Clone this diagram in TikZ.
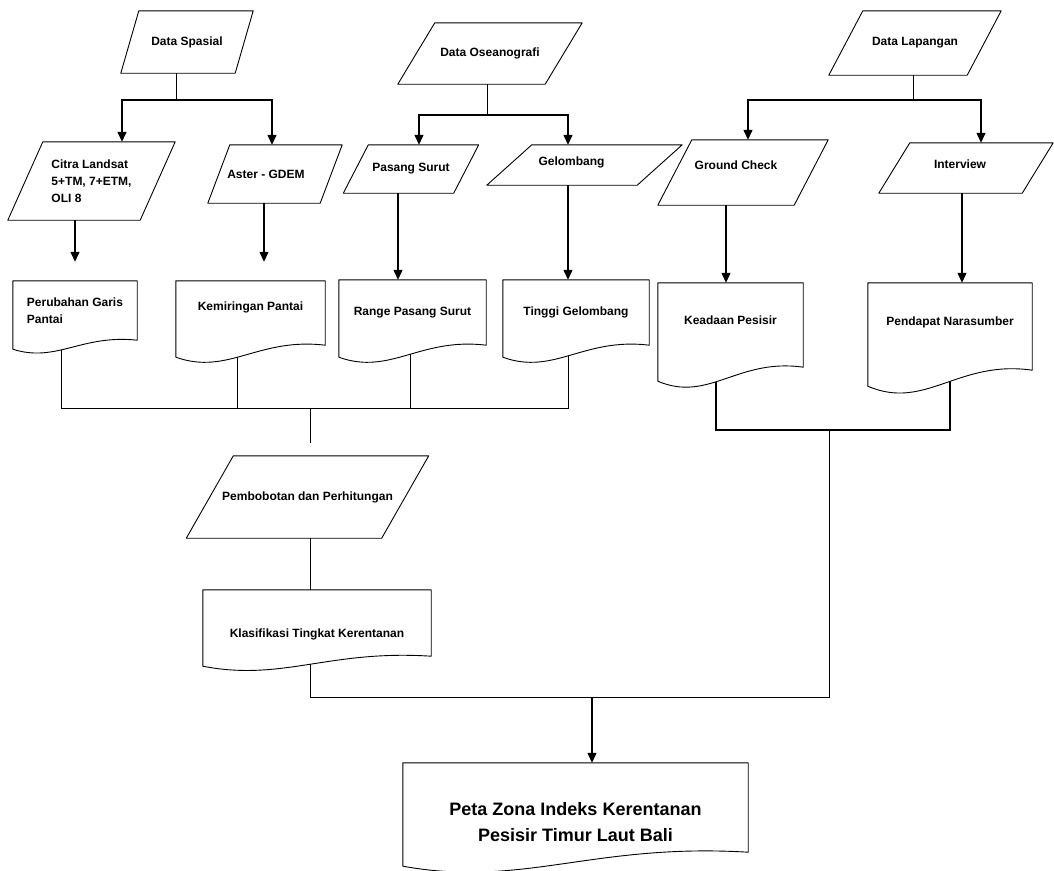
\documentclass[tikz,border=0pt]{standalone}
\usepackage{fontspec}
\setmainfont{Liberation Sans}
\usetikzlibrary{arrows.meta,calc,backgrounds}

\tikzset{
  box/.style={inner sep=0pt,align=center,font=\bfseries\fontsize{12}{17}\selectfont},
  outline/.style={line width=0.9pt,line join=round},
  conn/.style={line width=1pt},
  arr/.style={line width=1.3pt,-{Triangle[length=10pt,width=9pt]}},
}

\begin{document}
\begin{tikzpicture}[x=1pt,y=-1pt]
\useasboundingbox (0,0) rectangle (1054,870);

% input data (parallelograms)
\node[box,minimum width=114pt,minimum height=62pt] (spasial) at (187,42) {Data Spasial};
\node[box,minimum width=147pt,minimum height=61pt] (oseano) at (490,53.5) {Data Oseanografi};
\node[box,minimum width=138pt,minimum height=64pt] (lapangan) at (915,43) {Data Lapangan};
\node[box,align=left,minimum width=132pt,minimum height=78pt] (citra) at (91.5,181) {Citra Landsat\\5+TM, 7+ETM,\\OLI 8};
\node[box,minimum width=112pt,minimum height=58pt] (aster) at (275,174) {Aster - GDEM\hspace*{18pt}};
\node[box,minimum width=110pt,minimum height=48pt] (pasang) at (411,169) {Pasang Surut};
\node[box,minimum width=150pt,minimum height=40pt,text depth=8pt] (gelombang) at (584.5,165) {Gelombang\hspace*{26pt}};
\node[box,minimum width=136pt,minimum height=65pt,text depth=15pt] (ground) at (743,172.5) {Ground Check\hspace*{14pt}};
\node[box,minimum width=143pt,minimum height=50pt,text depth=8pt] (interview) at (966,168) {Interview\hspace*{12pt}};
\node[box,minimum width=195pt,minimum height=82pt] (bobot) at (307.5,497) {Pembobotan dan Perhitungan};

% documents
\node[box,align=left,minimum width=124pt,minimum height=59pt] (perubahan) at (75,310.5) {Perubahan Garis\\Pantai};
\node[box,minimum width=149pt,minimum height=64pt,text depth=13pt] (kemiringan) at (250.5,313) {Kemiringan Pantai};
\node[box,minimum width=147pt,minimum height=65pt] (range) at (412.5,312.5) {Range Pasang Surut};
\node[box,minimum width=146pt,minimum height=65pt] (tinggi) at (576,312.5) {Tinggi Gelombang};
\node[box,minimum width=145pt,minimum height=84pt,text depth=9pt] (keadaan) at (730.5,325) {Keadaan Pesisir};
\node[box,minimum width=164pt,minimum height=87pt,text depth=11pt] (pendapat) at (950,326.5) {Pendapat Narasumber};
\node[box,minimum width=228pt,minimum height=66pt,text height=32pt] (klasif) at (317,623) {Klasifikasi Tingkat Kerentanan};
\node[box,minimum width=345pt,minimum height=89pt,text height=68pt,
      font=\bfseries\fontsize{18}{26}\selectfont] (peta) at (575.5,807.5) {Peta Zona Indeks Kerentanan\\Pesisir Timur Laut Bali};

% junctions
\coordinate (jspasial) at (176,100);
\coordinate (joseano) at (487,115);
\coordinate (jlapangan) at (913,100);
\coordinate (jinput) at (310,408);
\coordinate (jfield) at (829,430);
\coordinate (jout) at (592,697);

\foreach \n/\s in {spasial/18,oseano/37,lapangan/34,citra/35,aster/22,pasang/25,gelombang/45,ground/34,interview/31,bobot/47}
  \draw[outline] ([xshift=\s/2]\n.north west) -- ([xshift=\s/2]\n.north east)
    -- ([xshift=-\s/2]\n.south east) -- ([xshift=-\s/2]\n.south west) -- cycle;

\begin{scope}[on background layer]
\draw[conn] (spasial.south -| jspasial) -- (jspasial);
\draw[arr] (jspasial) -| ([xshift=30.5pt]citra.north);
\draw[arr] (jspasial) -| ([xshift=-3pt]aster.north);
\draw[arr,shorten >=19pt] (citra.south -| perubahan.north) -- (perubahan.north);
\draw[arr,shorten >=19pt] ([xshift=-11pt]aster.south) -- ([xshift=-11pt]aster.south |- kemiringan.north);

\draw[conn] (oseano.south -| joseano) -- (joseano);
\draw[arr] (joseano) -| ([xshift=8pt]pasang.north);
\draw[arr] (joseano) -| ([xshift=-16.5pt]gelombang.north);
\draw[arr] ([xshift=-13pt]pasang.south) -- ([xshift=-13pt]pasang.south |- range.north);
\draw[arr] ([xshift=-16.5pt]gelombang.south) -- ([xshift=-16.5pt]gelombang.south |- tinggi.north);

\draw[conn] (lapangan.south -| jlapangan) -- (jlapangan);
\draw[arr] (jlapangan) -| ([xshift=5pt]ground.north);
\draw[arr] (jlapangan) -| ([xshift=15pt]interview.north);
\draw[arr] ([xshift=-17pt]ground.south) -- ([xshift=-17pt]ground.south |- keadaan.north);
\draw[arr] ([xshift=-4pt]interview.south) -- ([xshift=-4pt]interview.south |- pendapat.north);

% merging
\draw[conn] ([xshift=-14pt]perubahan.south) |- ([xshift=-8pt]tinggi.south |- jinput) -- ([xshift=-8pt]tinggi.south);
\draw[conn] ([xshift=-13.5pt]kemiringan.south) -- ([xshift=-13.5pt]kemiringan.south |- jinput);
\draw[conn] ([xshift=-2.5pt]range.south) -- ([xshift=-2.5pt]range.south |- jinput);
\draw[conn,shorten >=13pt] (jinput) -- (jinput |- bobot.north);
\draw[conn] (bobot.south -| jinput) -- (klasif.north -| jinput);
\draw[conn] (klasif.south -| jinput) |- (jout) -| (jfield);
\draw[arr] ([xshift=-14.5pt]keadaan.south) |- (pendapat.south |- jfield) -- (pendapat.south);
\draw[arr] (jout) -- (jout |- peta.north);

\foreach \n/\d in {perubahan/9,kemiringan/12,range/12,tinggi/12,keadaan/14,pendapat/16,klasif/10,peta/14}
  \draw[outline,fill=white] (\n.south west) -- (\n.north west) -- (\n.north east) -- (\n.south east)
    .. controls ($(\n.south west)!0.55!(\n.south east)+(0,-0.67*\d)$)
    and ($(\n.south west)!0.35!(\n.south east)+(0,2.55*\d)$) .. ($(\n.south west)+(0,\d)$) -- cycle;
\end{scope}
\end{tikzpicture}
\end{document}
